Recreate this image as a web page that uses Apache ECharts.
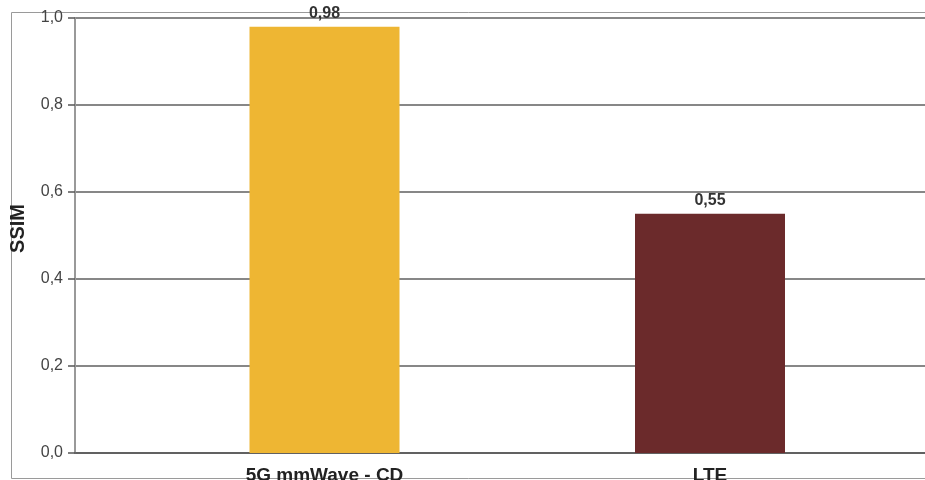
<!DOCTYPE html>
<html>
<head>
<meta charset="utf-8">
<script src="https://cdn.jsdelivr.net/npm/echarts@6/dist/echarts.min.js"></script>
<style>
html,body{margin:0;padding:0;background:#fff;}
#chart{width:925px;height:480px;}
</style>
</head>
<body>
<div id="chart"></div>
<script>
const categories = ['5G mmWave - CD', 'LTE'];
const ssimValues = [0.98, 0.55];
const barColors = ['#EEB633', '#6B2A2B'];
const yTickValues = [0, 0.2, 0.4, 0.6, 0.8, 1.0];

const FONT = "'Liberation Sans', Arial, sans-serif";
const fmt = v => Number(v).toFixed(1).replace('.', ',');

const chart = echarts.init(document.getElementById('chart'), null, {renderer: 'canvas'});
chart.setOption({
  animation: false,
  backgroundColor: '#fff',
  graphic: [{
    type: 'rect', silent: true, z: -10,
    shape: {x: 11.5, y: 12.5, width: 1000, height: 466},
    style: {fill: null, stroke: '#9a9a9a', lineWidth: 1}
  }],
  grid: [
    {left: 75, right: 0, top: 18, bottom: 27, outerBoundsMode: 'none', containLabel: false},
    {left: 131.75, right: 22.25, top: 18, bottom: 27, outerBoundsMode: 'none', containLabel: false}
  ],
  xAxis: [
    {
      gridIndex: 0, type: 'category', data: categories,
      axisLine: {show: true, lineStyle: {color: '#555', width: 1.5}},
      axisTick: {show: false}, axisLabel: {show: false}, splitLine: {show: false}
    },
    {
      gridIndex: 1, type: 'category', data: categories,
      axisLine: {show: false}, axisTick: {show: false}, splitLine: {show: false},
      axisLabel: {
        show: true, margin: 13, color: '#222', fontFamily: FONT,
        fontSize: 19, fontWeight: 'bold'
      }
    }
  ],
  yAxis: [
    {
      gridIndex: 0, type: 'value', min: 0, max: 1, interval: 0.2,
      name: 'SSIM', nameLocation: 'middle', nameGap: 47, nameRotate: 90,
      nameTextStyle: {fontFamily: FONT, fontSize: 20, fontWeight: 'bold', color: '#222', padding: [0, 0, 0, 14]},
      axisLine: {show: true, lineStyle: {color: '#999', width: 2}},
      axisTick: {show: true, length: 7, lineStyle: {color: '#555', width: 1.5}},
      axisLabel: {
        margin: 12, color: '#444', fontFamily: FONT, fontSize: 16,
        formatter: v => yTickValues.some(t => Math.abs(t - v) < 1e-9) ? fmt(v) : ''
      },
      splitLine: {show: true, lineStyle: {color: '#5f5f5f', width: 1.6}}
    },
    {gridIndex: 1, type: 'value', min: 0, max: 1, show: false}
  ],
  series: [{
    type: 'bar', xAxisIndex: 1, yAxisIndex: 1, barWidth: 150,
    data: ssimValues.map((v, i) => ({value: v, itemStyle: {color: barColors[i]}})),
    label: {
      show: true, position: 'top', distance: 5, color: '#333',
      fontFamily: FONT, fontSize: 16, fontWeight: 'bold',
      formatter: p => Number(p.value).toFixed(2).replace('.', ',')
    }
  }]
});
</script>
</body>
</html>
